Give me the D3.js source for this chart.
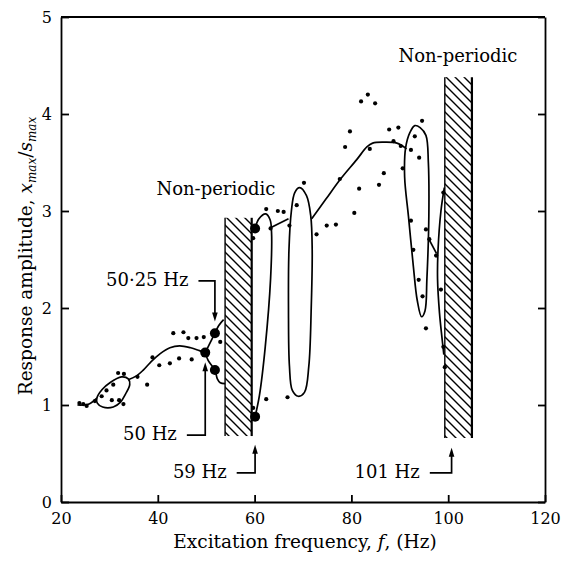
<!DOCTYPE html>
<html>
<head>
<meta charset="utf-8">
<script src="https://cdn.jsdelivr.net/npm/d3@7"></script>
<style>
  body { margin: 0; background: #fff; }
  svg text { font-family: "DejaVu Serif", "Liberation Serif", serif; fill: #000; }
</style>
</head>
<body>
<svg width="564" height="562"></svg>
<script>
// tick values
const freqTicks = [20, 40, 60, 80, 100, 120];
const ampTicks = [0, 1, 2, 3, 4, 5];

// measured points [frequency Hz, amplitude]
const smallPts = [
  [23.8, 1.02], [24.6, 1.01], [25.3, 0.99], [27.0, 1.04],
  [28.4, 1.09], [29.4, 1.15], [30.8, 1.21], [30.5, 1.05], [32.0, 1.05], [32.9, 1.01],
  [31.8, 1.33], [33.0, 1.32], [35.8, 1.29], [37.8, 1.21], [38.9, 1.49], [40.3, 1.41],
  [42.5, 1.43], [44.4, 1.48], [47.0, 1.47], [43.2, 1.74], [45.3, 1.75], [46.3, 1.69],
  [48.0, 1.69], [49.5, 1.70], [52.9, 1.65],
  [59.7, 2.72], [59.7, 0.97], [62.4, 3.02], [63.3, 2.82], [64.8, 3.00], [66.0, 2.99],
  [67.2, 2.85], [68.7, 3.06], [70.2, 3.29], [72.8, 2.76], [74.9, 2.85], [76.8, 2.86],
  [62.4, 1.06], [66.8, 1.08], [77.6, 3.33],
  [80.6, 2.98], [81.6, 3.23], [79.7, 3.82], [78.7, 3.66], [82.0, 4.13], [83.4, 4.20],
  [84.9, 4.11], [83.8, 3.64], [85.7, 3.27], [86.7, 3.39], [87.8, 3.84], [89.7, 3.86],
  [88.7, 3.72], [90.2, 3.67], [90.6, 3.44], [92.3, 3.63], [93.1, 3.77], [94.6, 3.93],
  [94.0, 3.55], [92.3, 2.90], [95.4, 2.81], [92.8, 2.60], [96.1, 2.71], [97.5, 2.54],
  [93.9, 2.29], [94.7, 2.12], [98.5, 2.19], [95.4, 1.79], [99.0, 3.19], [99.3, 1.39],
  [99.0, 1.60]
];
const bigPts = [[49.8, 1.54], [51.8, 1.74], [51.8, 1.36], [60.1, 2.82], [60.1, 0.88]];

// fitted response branches
const tailLeft = [[23.4, 1.0], [24.5, 1.0], [25.8, 1.01], [27.4, 1.07]];
const loopA = [[27.4, 1.07], [28.5, 1.16], [30.1, 1.23], [32.5, 1.29], [33.9, 1.27], [34.2, 1.21],
  [33.3, 1.11], [32.3, 1.03], [30.8, 0.98], [28.6, 0.98], [27.5, 1.02]];
const riseA = [[33.9, 1.26], [35.6, 1.3], [37.0, 1.36], [38.5, 1.44], [40.5, 1.53], [42.5, 1.59],
  [44.5, 1.61], [46.8, 1.59], [48.6, 1.56], [49.8, 1.54]];
const upperJump = [[49.8, 1.54], [50.8, 1.64], [51.8, 1.74], [52.6, 1.82], [53.6, 1.88]];
const lowerJump = [[49.8, 1.54], [50.4, 1.46], [51.8, 1.36], [52.3, 1.27], [52.9, 1.23], [53.9, 1.22]];
const fold60 = [[60.1, 2.82], [60.9, 2.92], [62.3, 2.97], [63.2, 2.91], [63.5, 2.78], [63.3, 2.3],
  [62.2, 1.6], [61.0, 1.1], [60.1, 0.88]];
const link60 = [[63.4, 2.83], [67.0, 2.92]];
const loopB = [[69.3, 3.24], [70.7, 3.16], [71.6, 2.95], [71.9, 2.6], [71.7, 2.0], [71.2, 1.4],
  [70.3, 1.13], [69.0, 1.09], [67.8, 1.15], [67.2, 1.4], [67.0, 2.0], [67.1, 2.6], [67.6, 3.0], [68.3, 3.19]];
const riseB = [[71.8, 2.92], [74.7, 3.12], [77.6, 3.32], [81.1, 3.53], [83.2, 3.66], [84.4, 3.70],
  [86.6, 3.71], [89.4, 3.70], [91.4, 3.64]];
const loopC = [[94.2, 3.86], [95.4, 3.78], [95.9, 3.5], [96.0, 2.94], [95.6, 2.3], [95.2, 1.97],
  [94.5, 1.91], [93.6, 2.08], [92.8, 2.43], [91.8, 2.94], [91.0, 3.35], [91.2, 3.65], [92.1, 3.81], [93.1, 3.88]];
const link96 = [[95.9, 2.72], [97.6, 2.56]];
const fold101 = [[99.2, 3.24], [98.5, 3.0], [97.9, 2.6], [97.8, 2.3], [98.2, 1.95], [98.7, 1.7], [99.1, 1.52]];

// non-periodic bands [f0, f1, a0, a1]
const bands = [[53.9, 59.4, 0.68, 2.93], [99.3, 104.9, 0.66, 4.38]];
const bandLabels = [["Non-periodic", 52.0, 3.16], ["Non-periodic", 102.0, 4.54]];

// arrow notes: label, arrow f, tip amp, elbow amp, start f
const notes = [
  ["50\u00b725 Hz", 51.8, 1.86, 2.28, 48.4],
  ["50 Hz", 49.8, 1.44, 0.69, 46.0],
  ["59 Hz", 60.1, 0.59, 0.30, 56.3],
  ["101 Hz", 100.7, 0.56, 0.30, 96.2]
];

const svg = d3.select('svg');
const x = d3.scaleLinear().domain([20, 120]).range([61, 545]);
const y = d3.scaleLinear().domain([0, 5]).range([502, 17]);

// hatch pattern
svg.append('defs').append('pattern')
    .attr('id', 'hatch')
    .attr('patternUnits', 'userSpaceOnUse')
    .attr('width', 9).attr('height', 9)
  .append('path')
    .attr('d', 'M0,0L9,9M-3,6L3,12M6,-3L12,3')
    .attr('stroke', '#000').attr('stroke-width', 1.4);

const bandG = svg.append('g');
bands.forEach(b => {
  bandG.append('rect')
      .attr('x', x(b[0])).attr('y', y(b[3]))
      .attr('width', x(b[1]) - x(b[0])).attr('height', y(b[2]) - y(b[3]))
      .attr('fill', 'url(#hatch)');
  bandG.append('line')
      .attr('x1', x(b[0])).attr('x2', x(b[0])).attr('y1', y(b[3])).attr('y2', y(b[2]))
      .attr('stroke', '#000').attr('stroke-width', 1.4);
  bandG.append('line')
      .attr('x1', x(b[1])).attr('x2', x(b[1])).attr('y1', y(b[3])).attr('y2', y(b[2]))
      .attr('stroke', '#000').attr('stroke-width', 2.2);
});

// axes
const axB = svg.append('g').attr('transform', `translate(0,${y(0)})`)
    .call(d3.axisBottom(x).tickValues(freqTicks).tickSize(-7).tickSizeOuter(0).tickPadding(11));
const axL = svg.append('g').attr('transform', `translate(${x(20)},0)`)
    .call(d3.axisLeft(y).tickValues(ampTicks).tickFormat(d3.format('d'))
      .tickSize(-8).tickSizeOuter(0).tickPadding(9));
const axR = svg.append('g').attr('transform', `translate(${x(120)},0)`)
    .call(d3.axisRight(y).tickValues(ampTicks).tickSize(-7).tickSizeOuter(0).tickFormat(''));
svg.append('line')
    .attr('x1', x(20)).attr('x2', x(120)).attr('y1', y(5)).attr('y2', y(5))
    .attr('stroke', '#000').attr('stroke-width', 1.8);
[axB, axL, axR].forEach(a => {
  a.selectAll('path, line').attr('stroke', '#000').attr('stroke-width', 1.8);
  a.selectAll('text').attr('font-size', '16px').attr('font-family', '"DejaVu Serif", serif');
});

// branches
const open = d3.line().x(d => x(d[0])).y(d => y(d[1])).curve(d3.curveCatmullRom.alpha(0.5));
const closed = d3.line().x(d => x(d[0])).y(d => y(d[1])).curve(d3.curveCatmullRomClosed.alpha(0.5));
const curveG = svg.append('g').attr('fill', 'none').attr('stroke', '#000').attr('stroke-width', 1.7);
[tailLeft, riseA, upperJump, lowerJump, fold60, link60, riseB, link96, fold101].forEach(c => {
  curveG.append('path').attr('d', open(c));
});
[loopA, loopB, loopC].forEach(c => {
  curveG.append('path').attr('d', closed(c));
});

// measured points
svg.append('g').selectAll('circle').data(smallPts)
  .enter().append('circle')
    .attr('cx', d => x(d[0])).attr('cy', d => y(d[1])).attr('r', 2.1);
svg.append('g').selectAll('circle').data(bigPts)
  .enter().append('circle')
    .attr('cx', d => x(d[0])).attr('cy', d => y(d[1])).attr('r', 5);

// arrows and notes
const noteG = svg.append('g');
notes.forEach(n => {
  const ax = x(n[1]), tip = y(n[2]), el = y(n[3]), sx = x(n[4]);
  const dir = tip > el ? 1 : -1; // 1 = arrow points down
  noteG.append('path')
      .attr('d', `M${sx},${el}H${ax}V${tip - dir * 6}`)
      .attr('fill', 'none').attr('stroke', '#000').attr('stroke-width', 1.7);
  noteG.append('path')
      .attr('d', `M${ax},${tip}L${ax - 2.8},${tip - dir * 9}L${ax + 2.8},${tip - dir * 9}Z`)
      .attr('fill', '#000');
  noteG.append('text')
      .attr('x', sx - 10).attr('y', el + 5)
      .attr('text-anchor', 'end').attr('font-size', '18px')
      .text(n[0]);
});

svg.append('g').selectAll('text').data(bandLabels)
  .enter().append('text')
    .attr('x', d => x(d[1])).attr('y', d => y(d[2]))
    .attr('text-anchor', 'middle').attr('font-size', '18px')
    .text(d => d[0]);

// axis titles
const xt = svg.append('text')
    .attr('x', 305).attr('y', 548)
    .attr('text-anchor', 'middle').attr('font-size', '18.5px');
xt.append('tspan').text('Excitation frequency, ');
xt.append('tspan').attr('font-style', 'italic').text('f');
xt.append('tspan').text(', (Hz)');

const yt = svg.append('text')
    .attr('transform', 'translate(32,256) rotate(-90)')
    .attr('text-anchor', 'middle').attr('font-size', '18.5px');
yt.append('tspan').text('Response amplitude, ');
yt.append('tspan').attr('font-style', 'italic').text('x');
yt.append('tspan').attr('font-style', 'italic').attr('font-size', '12px').attr('dy', 4).text('max');
yt.append('tspan').attr('dy', -4).text('/');
yt.append('tspan').attr('font-style', 'italic').text('s');
yt.append('tspan').attr('font-style', 'italic').attr('font-size', '12px').attr('dy', 4).text('max');
</script>
</body>
</html>
